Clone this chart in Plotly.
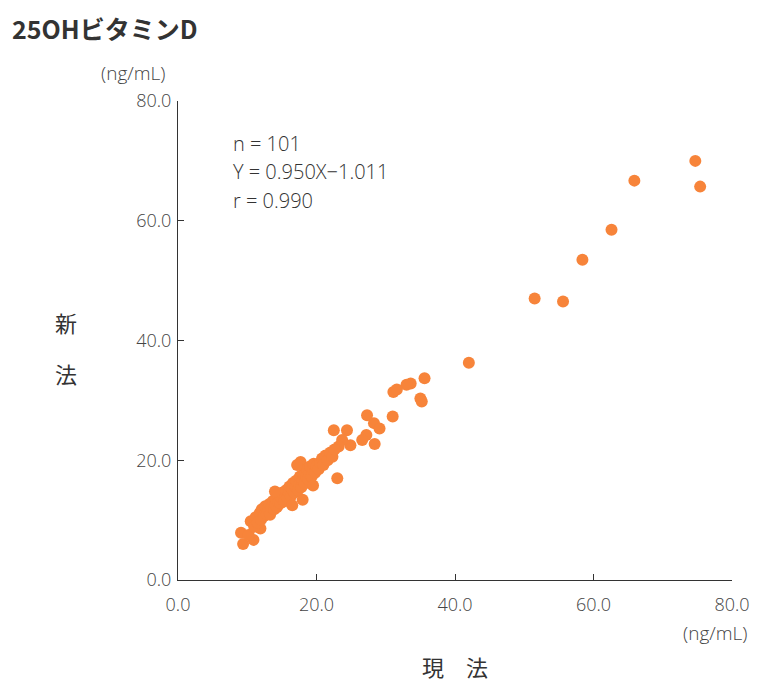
import plotly.graph_objects as go

current_x = [74.7, 75.4, 65.9, 62.6, 58.4, 51.5, 55.6, 42.0,
             35.6, 33.6, 33.0, 31.1, 31.6, 35.0, 35.2, 27.3, 31.0, 28.3, 29.1,
             22.5, 24.4, 27.2, 26.6, 28.4, 24.9, 23.7, 23.2, 23.0, 17.7,
             9.1, 9.4, 10.9, 11.9,
             10.2, 10.5, 11.0, 11.2, 11.5, 11.8, 12.0, 12.1, 12.4, 12.6, 12.8, 13.0,
             13.2, 13.3, 13.5, 13.7, 13.9, 14.0, 14.2, 14.3, 14.5, 14.7, 14.8, 15.0,
             15.1, 15.3, 15.5, 15.6, 15.8, 16.0, 16.1, 16.3, 16.5, 16.6, 16.8, 17.0,
             17.1, 17.3, 17.5, 17.6, 17.8, 18.0, 18.1, 18.3, 18.5, 18.6, 18.8, 19.0,
             19.1, 19.3, 19.5, 19.6, 19.8, 20.0, 20.3, 20.5, 20.8, 21.0, 21.3, 21.6,
             22.0, 22.3, 22.6, 17.2, 18.0, 16.5, 19.5, 14.0]
new_y = [70.0, 65.7, 66.7, 58.5, 53.5, 47.0, 46.5, 36.3,
         33.7, 32.8, 32.6, 31.4, 31.8, 30.3, 29.8, 27.5, 27.3, 26.2, 25.3,
         25.0, 25.0, 24.2, 23.4, 22.7, 22.5, 23.4, 22.3, 17.0, 19.7,
         7.9, 6.0, 6.7, 8.6,
         7.5, 9.8, 8.9, 10.5, 9.6, 11.2, 10.1, 11.8, 10.7, 12.3, 11.0, 11.9,
         12.7, 10.9, 12.1, 13.2, 11.8, 12.6, 13.5, 12.2, 13.0, 14.1, 12.8, 13.6,
         14.6, 13.1, 14.2, 15.0, 13.7, 14.5, 15.6, 14.0, 15.1, 16.2, 14.6, 15.5,
         16.6, 15.0, 16.0, 17.3, 15.5, 16.6, 17.8, 16.1, 17.2, 18.5, 16.8, 17.7,
         19.0, 17.3, 18.4, 19.4, 17.9, 19.0, 18.5, 19.6, 20.3, 19.2, 20.8, 20.0,
         21.3, 20.6, 21.8, 19.2, 13.4, 12.5, 15.8, 14.8]

tick_vals = [0, 20, 40, 60, 80]
tick_text = ["0.0", "20.0", "40.0", "60.0", "80.0"]

stats_lines = ["n = 101", "Y = 0.950X\u22121.011", "r = 0.990"]

# page body has an 8px margin; plot area target: x 178-732, y 101-580 (page px)
OFF = 8
L, T = 178 - OFF, 101 - OFF
PW, PH = 554, 479
FIG_W = 758 - OFF
FIG_H = 682 - OFF

def px(xp):
    return (xp - 178) / PW

def py(yp):
    return (580 - yp) / PH

fig = go.Figure()
fig.add_trace(go.Scatter(
    x=current_x, y=new_y, mode="markers",
    marker=dict(color="#F7843A", size=12, line=dict(width=0)),
    showlegend=False, hoverinfo="x+y",
))

tick_font = dict(family="Open Sans, DejaVu Sans", size=18, color="#444", weight=300)

axis_common = dict(
    range=[0, 80], tickvals=tick_vals, ticktext=tick_text,
    showgrid=False, zeroline=False, showline=True, linecolor="#333",
    linewidth=1, ticks="inside", ticklen=6, tickcolor="#333",
    tickfont=tick_font, automargin=False,
)

fig.update_xaxes(**axis_common, ticklabelstandoff=8)
fig.update_yaxes(**axis_common, ticklabelstandoff=2)

txt_font = dict(family="Noto Sans CJK JP", size=22, color="#333")
num_font = dict(family="Open Sans, DejaVu Sans", size=19, color="#444", weight=300)
stat_font = dict(family="Open Sans, DejaVu Sans", size=20, color="#333", weight=300)

annotations = [
    dict(text="<b>25OHビタミンD</b>", x=px(10), y=py(28), xanchor="left",
         font=dict(family="Noto Sans CJK JP", size=25, color="#333")),
    dict(text="(ng/mL)", x=px(133), y=py(73), xanchor="center", font=num_font),
    dict(text="(ng/mL)", x=px(715), y=py(633), xanchor="center", font=num_font),
    dict(text="新", x=px(66), y=py(322), xanchor="center", font=txt_font),
    dict(text="法", x=px(66), y=py(373), xanchor="center", font=txt_font),
    dict(text="現　法", x=px(455), y=py(666), xanchor="center", font=txt_font),
]
for i, line in enumerate(stats_lines):
    annotations.append(dict(text=line, x=px(231), y=py(143 + 28.5 * i),
                            xanchor="left", font=stat_font))
for a in annotations:
    a.update(xref="paper", yref="paper", yanchor="middle", showarrow=False)

fig.update_layout(
    width=FIG_W, height=FIG_H,
    margin=dict(l=L, r=FIG_W - L - PW, t=T, b=FIG_H - T - PH),
    paper_bgcolor="white", plot_bgcolor="white",
    annotations=annotations,
)

fig.write_html("out.html")
